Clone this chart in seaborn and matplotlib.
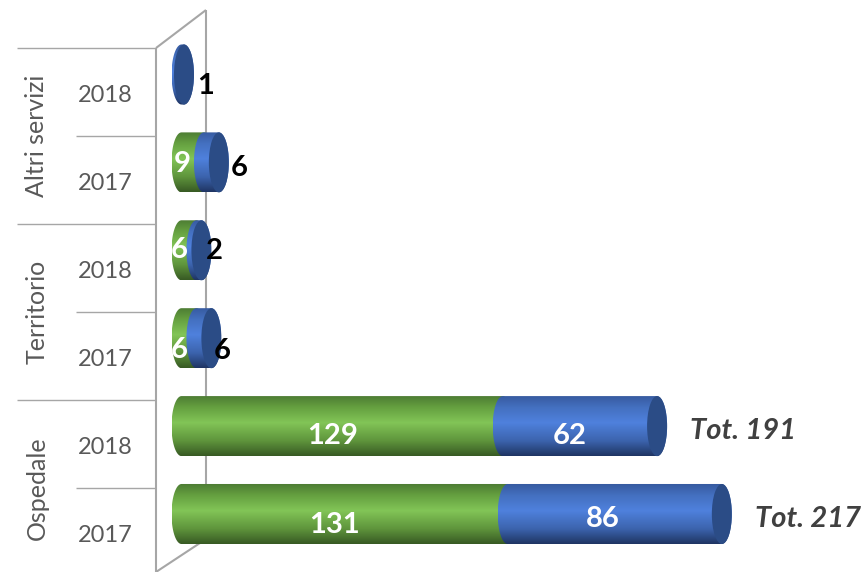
import numpy as np
import pandas as pd
import matplotlib
matplotlib.use('Agg')
import matplotlib.pyplot as plt
import seaborn as sns
from matplotlib.colors import LinearSegmentedColormap
from matplotlib.patches import Ellipse
from matplotlib.path import Path
from matplotlib.transforms import Affine2D

# dati (dall'alto verso il basso)
gruppi = ['Altri servizi', 'Territorio', 'Ospedale']
anni = ['2018', '2017', '2018', '2017', '2018', '2017']
categorie = ['Altri 2018', 'Altri 2017', 'Terr 2018', 'Terr 2017', 'Osp 2018', 'Osp 2017']
verde = [0, 9, 6, 6, 129, 131]
blu = [1, 6, 2, 6, 62, 86]
totali = [None, None, None, None, 191, 217]

W, H = 867, 572
PX_X = 2.49    # pixel per unita
PX_Y = 87.9    # pixel per categoria
X0, Y0 = 181.5, 74.5
CAP = 10 / PX_X  # semiasse orizzontale del cilindro

sns.set_theme(style='white')
plt.rcParams['font.family'] = ['Lato', 'DejaVu Sans']

fig = plt.figure(figsize=(W / 100, H / 100), dpi=100)
ax = fig.add_axes([0, 0, 1, 1])

df = pd.DataFrame({'cat': categorie, 'verde': verde, 'blu': blu})
sns.barplot(data=df, y='cat', x='verde', color='#70ad47', width=0.683, ax=ax)
n_verdi = len(ax.patches)
sns.barplot(data=df, y='cat', x='blu', left=df['verde'], color='#4472c4', width=0.683, ax=ax)
ax.axis('off')

cm_verde = LinearSegmentedColormap.from_list('v', [(0, '#4c7a33'), (0.2, '#65a040'), (0.45, '#82c557'),
                                                   (0.75, '#5f953c'), (1, '#385a24')])
cm_blu = LinearSegmentedColormap.from_list('b', [(0, '#36599e'), (0.2, '#4470c0'), (0.45, '#4f81dd'),
                                                 (0.75, '#3c64ae'), (1, '#1f3563')])
grad = np.linspace(0, 1, 128)[:, None]


def cilindro(a, b, y, h):
    # contorno: arco sinistro in a, arco destro in b
    t = np.linspace(np.pi / 2, 3 * np.pi / 2, 40)
    sx = np.c_[a + CAP * np.cos(t), y + h / 2 * np.sin(t)]
    t = np.linspace(-np.pi / 2, np.pi / 2, 40)
    dx = np.c_[b + CAP * np.cos(t), y + h / 2 * np.sin(t)]
    return Path(np.r_[sx, dx, sx[:1]], closed=True)


for i, p in enumerate(ax.patches):
    a, b = p.get_x(), p.get_x() + p.get_width()
    h = p.get_height()
    yc = p.get_y() + h / 2
    p.set_visible(False)
    if b <= a:
        continue
    cm = cm_verde if i < n_verdi else cm_blu
    z = 3 if i < n_verdi else 4
    im = ax.imshow(grad, cmap=cm, extent=(a - CAP, b + CAP, yc + h / 2, yc - h / 2),
                   aspect='auto', origin='upper', interpolation='bilinear', zorder=z)
    im.set_clip_path(cilindro(a, b, yc, h), transform=ax.transData)
    if i >= n_verdi:
        ax.add_patch(Ellipse((b, yc), 2 * CAP, h, facecolor='#2b4c86', edgecolor='none', zorder=5))

ax.set_xlim(-X0 / PX_X, (W - X0) / PX_X)
ax.set_ylim((H - Y0) / PX_Y, -Y0 / PX_Y)

# parete e separatori, in pixel dall'alto a sinistra
px = Affine2D().scale(1, -1).translate(0, H)
grigio = '#a6a6a6'
for xs, ys, lw, z in [([206, 206], [10, 490], 1.5, 1), ([156, 156], [48, 572], 1.5, 6),
                      ([156, 206], [48, 10], 1.5, 1), ([156, 200], [572, 543], 1.5, 1),
                      ([17, 156], [48, 48], 1, 6), ([17, 156], [224, 224], 1, 6),
                      ([17, 156], [400, 400], 1, 6), ([76, 156], [136, 136], 1, 6),
                      ([76, 156], [312, 312], 1, 6), ([76, 156], [488, 488], 1, 6)]:
    ax.plot(xs, ys, color=grigio, lw=lw, transform=px, zorder=z, solid_capstyle='butt', clip_on=False)

# etichette assi
for i, anno in enumerate(anni):
    ax.text(105, Y0 + i * PX_Y + 21, anno, transform=px, ha='center', va='center',
            fontsize=17, color='#595959')
for i, g in enumerate(gruppi):
    ax.text(37, 136 + i * 176, g, transform=px, ha='center', va='center', rotation=90,
            fontsize=18, color='#595959')

# etichette valori: spostamenti in pixel verso il basso
sp_verde = [None, (-10, 2), (-10, 0), (-10, 12), (-10, 10), (-10, 11)]
sp_blu = [(22, 11), (20, 6), (13, 1), (11, 13), (-10, 10), (-12, 5)]
for i in range(len(categorie)):
    if verde[i] > 0:
        ax.annotate(str(verde[i]), (verde[i] / 2, i), xytext=(sp_verde[i][0], -sp_verde[i][1]),
                    textcoords='offset pixels', ha='center', va='center', fontsize=21,
                    fontweight='bold', color='white', zorder=7)
    tot = verde[i] + blu[i]
    if blu[i] >= 10:
        ax.annotate(str(blu[i]), (verde[i] + blu[i] / 2, i), xytext=(sp_blu[i][0], -sp_blu[i][1]),
                    textcoords='offset pixels', ha='center', va='center', fontsize=21,
                    fontweight='bold', color='white', zorder=7)
    else:
        ax.annotate(str(blu[i]), (tot, i), xytext=(sp_blu[i][0], -sp_blu[i][1]),
                    textcoords='offset pixels', ha='center', va='center', fontsize=21,
                    fontweight='bold', color='black', zorder=7)
    if totali[i] is not None:
        ax.annotate(f'Tot. {totali[i]}', (totali[i], i), xytext=(33, -5), textcoords='offset pixels',
                    ha='left', va='center', fontsize=21, fontweight='bold', fontstyle='italic',
                    color='#404040', zorder=7)

fig.savefig('out.png', dpi=100, facecolor='white')
